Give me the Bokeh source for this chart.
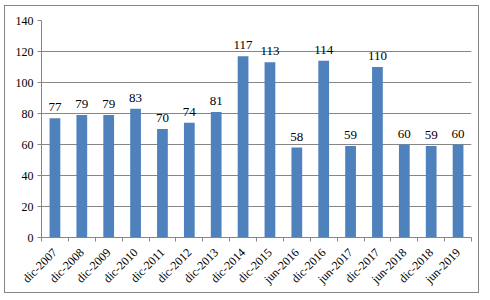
import math
from bokeh.plotting import figure
from bokeh.models import ColumnDataSource, FixedTicker, Range1d, LabelSet
from bokeh.embed import file_html
from bokeh.resources import INLINE

categories = ["dic-2007", "dic-2008", "dic-2009", "dic-2010", "dic-2011", "dic-2012",
              "dic-2013", "dic-2014", "dic-2015", "jun-2016", "dic-2016", "jun-2017",
              "dic-2017", "jun-2018", "dic-2018", "jun-2019"]
values = [77, 79, 79, 83, 70, 74, 81, 117, 113, 58, 114, 59, 110, 60, 59, 60]
y_ticks = [0, 20, 40, 60, 80, 100, 120, 140]

n = len(categories)
xs = [i + 0.5 for i in range(n)]
src = ColumnDataSource(dict(x=xs, top=values, lab=[str(v) for v in values]))

p = figure(width=475, height=288, output_backend="svg", toolbar_location=None,
           x_range=Range1d(0, n), y_range=Range1d(0, 140),
           min_border_left=36, min_border_right=9, min_border_top=14, min_border_bottom=56)
p.margin = (5, 0, 0, 4)
p.styles = {"border": "1px solid #868686"}
p.outline_line_color = None
p.background_fill_color = "white"
p.border_fill_color = "white"

p.vbar(x="x", top="top", width=0.4, source=src, fill_color="#4F81BD", line_color=None)

labels = LabelSet(x="x", y="top", text="lab", source=src, text_align="center",
                  text_baseline="bottom", y_offset=7, text_font="Liberation Serif",
                  text_font_size="13px", text_color="black")
p.add_layout(labels)

serif = "Liberation Serif"
p.xaxis.ticker = FixedTicker(ticks=xs, minor_ticks=list(range(n + 1)))
p.xaxis.major_label_overrides = {x: c for x, c in zip(xs, categories)}
p.xaxis.major_label_orientation = math.pi / 4
p.xaxis.major_tick_line_color = None
p.xaxis.minor_tick_out = 4
p.xaxis.minor_tick_in = 0
p.xaxis.minor_tick_line_color = "#868686"
p.xaxis.axis_line_color = "#868686"
p.xaxis.major_label_text_font = serif
p.xaxis.major_label_text_font_size = "12px"
p.xaxis.major_label_text_color = "black"
p.xaxis.major_label_standoff = 7

p.yaxis.ticker = FixedTicker(ticks=y_ticks)
p.yaxis.axis_line_color = "#868686"
p.yaxis.major_tick_line_color = "#868686"
p.yaxis.major_tick_out = 4
p.yaxis.major_tick_in = 0
p.yaxis.minor_tick_line_color = None
p.yaxis.major_label_text_font = serif
p.yaxis.major_label_text_font_size = "12px"
p.yaxis.major_label_text_color = "black"
p.yaxis.major_label_standoff = 4

p.xgrid.grid_line_color = None
p.ygrid.grid_line_color = "#868686"
p.ygrid.ticker = FixedTicker(ticks=y_ticks)

open("out.html", "w").write(file_html(p, INLINE))
